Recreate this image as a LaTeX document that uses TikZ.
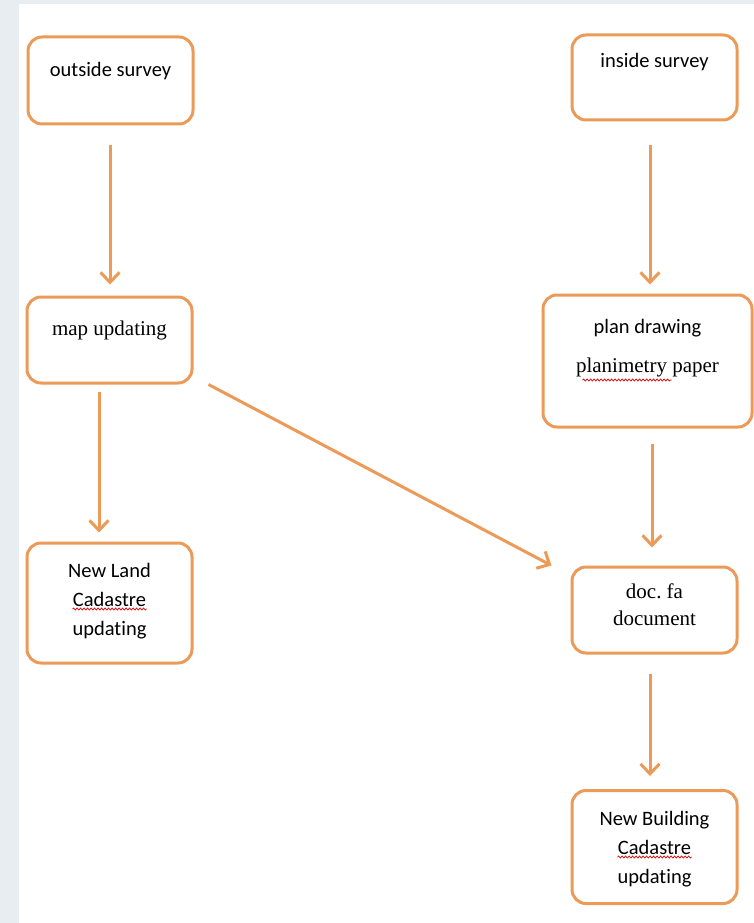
\documentclass[tikz,border=0pt]{standalone}
\usepackage{xcolor}
\usepackage{fontspec}
\setmainfont{Liberation Serif}
\newfontfamily\calibri[Ligatures=NoCommon]{Carlito}
\usepackage{tikz}
\usetikzlibrary{arrows.meta,decorations.pathmorphing}

\definecolor{boxorange}{HTML}{EC9A57}
\definecolor{sidegray}{HTML}{E8EDF2}

\tikzset{
    stepbox/.style={draw=boxorange, line width=3pt, rounded corners=14pt,
        fill=white, align=center, text height=15pt},
    sans/.style={font=\calibri\fontsize{20.5}{29}\selectfont},
    serif/.style={font=\fontsize{21}{27}\selectfont},
    arr/.style={draw=boxorange, line width=3pt,
        -{Straight Barb[length=10pt, width=19pt, line width=3pt]}},
    spellmark/.style={draw=red!85!black, line width=0.7pt,
        decorate, decoration={snake, amplitude=1pt, segment length=3.5pt}}
}

\begin{document}
\begin{tikzpicture}[x=1pt, y=-1pt]
    \useasboundingbox (0,0) rectangle (754,923);
    \fill[sidegray] (0,0) rectangle (754,923);
    \fill[white] (19,4) rectangle (754,923);

    % left column
    \node[stepbox, sans, minimum width=165pt, minimum height=87pt, text depth=22pt] (outside) at (110.5,80.5) {outside survey};
    \node[stepbox, serif, minimum width=165pt, minimum height=86pt, text depth=25pt] (map) at (109.5,340) {map updating};
    \node[stepbox, sans, minimum width=165pt, minimum height=120pt, text height=73pt, text depth=9pt] (newland) at (109.5,603) {New Land\\Cadastre\\updating};

    % right column
    \node[stepbox, sans, minimum width=165pt, minimum height=85pt, text depth=34pt] (inside) at (654.5,77.5) {inside survey};
    \node[stepbox, sans, minimum width=209pt, minimum height=132pt, text height=54pt, text depth=32pt] (plan) at (647.5,361) {plan drawing\\[10pt]{\fontsize{21}{27}\rmfamily\selectfont planimetry paper}};
    \node[stepbox, serif, minimum width=165pt, minimum height=86pt, text height=42pt, text depth=12pt] (doc) at (654.5,610) {doc.\ fa\\document};
    \node[stepbox, sans, minimum width=165pt, minimum height=113pt, text height=73pt, text depth=1pt] (newbuild) at (654.5,847) {New Building\\Cadastre\\updating};

    % red spelling marks
    \draw [spellmark] ([xshift=-37pt, yshift=-6pt]newland.center) -- ([xshift=37pt, yshift=-6pt]newland.center);
    \draw [spellmark] ([xshift=-37pt, yshift=-10pt]newbuild.center) -- ([xshift=37pt, yshift=-10pt]newbuild.center);
    \draw [spellmark] ([xshift=-65pt, yshift=-19pt]plan.center) -- ([xshift=24pt, yshift=-19pt]plan.center);

    \draw [arr, shorten <=19pt, shorten >=11pt] ([xshift=-0.5pt]outside.south) -- ([xshift=0.5pt]map.north);
    \draw [arr, shorten <=7pt, shorten >=9pt] ([xshift=-10.5pt]map.south) -- ([xshift=-10.5pt]newland.north);
    \draw [arr] ([xshift=15pt]map.south east) -- ([xshift=-19pt]doc.north west);

    \draw [arr, shorten <=23pt, shorten >=9pt] ([xshift=-4.5pt]inside.south) -- ([xshift=2.5pt]plan.north);
    \draw [arr, shorten <=15pt, shorten >=18pt] ([xshift=4.5pt]plan.south) -- ([xshift=-2.5pt]doc.north);
    \draw [arr, shorten <=19pt, shorten >=13pt] ([xshift=-4.5pt]doc.south) -- ([xshift=-4.5pt]newbuild.north);
\end{tikzpicture}
\end{document}
